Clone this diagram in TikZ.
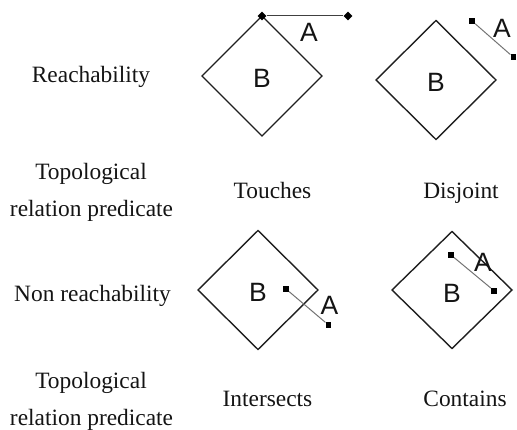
\documentclass[tikz,border=0pt]{standalone}
\usepackage{fontspec}
\setmainfont{Liberation Serif}
\newfontfamily\lblfont{Liberation Sans}
\usetikzlibrary{shapes.geometric}
\tikzset{
  rowlabel/.style={anchor=base, inner sep=0pt, font=\fontsize{23.4}{28}\selectfont, text=black!92},
  caption/.style={anchor=base, inner sep=0pt, font=\fontsize{23.4}{28}\selectfont, text=black!92},
  letter/.style={inner sep=0pt, font=\lblfont\fontsize{26.5}{30}\selectfont, text=black!92},
  region/.style={draw=black!88, line width=1.4pt, line join=miter},
  seg/.style={draw=black!55, line width=1pt},
  segdark/.style={draw=black!75, line width=1pt},
  dmark/.style={diamond, fill=black, inner sep=0pt, minimum width=9pt, minimum height=9pt},
  smark/.style={rectangle, fill=black, inner sep=0pt, minimum size=5.8pt},
}
\begin{document}
\begin{tikzpicture}[x=1pt, y=-1pt]
\useasboundingbox (0,0) rectangle (517,430);

% row labels
\node[rowlabel] (l1) at (91,83) {Reachability};
\node[rowlabel] (l2a) at (91,180) {Topological};
\node[rowlabel] (l2b) at (91.5,216.7) {relation predicate};
\node[rowlabel] (l3) at (92.5,301.7) {Non reachability};
\node[rowlabel] (l4a) at (91,388.3) {Topological};
\node[rowlabel] (l4b) at (91.5,425) {relation predicate};

% captions
\node[caption] (c1) at (272.5,199) {Touches};
\node[caption] (c2) at (461,199) {Disjoint};
\node[caption] (c3) at (267.5,406.7) {Intersects};
\node[caption] (c4) at (465,406.7) {Contains};

% Touches
\draw[region] (262,16) -- (322,76) -- (262,136) -- (202,76) -- cycle;
\node[letter] (b1) at (262,78) {B};
\node[dmark] (t1a) at (262,16) {};
\node[dmark] (t1b) at (348,16) {};
\draw[segdark] (t1a) -- (t1b);
\node[letter] (a1) at (309,32) {A};

% Disjoint
\draw[region] (436,20.5) -- (496,80) -- (436,139.5) -- (376,80) -- cycle;
\node[letter] (b2) at (436,82) {B};
\node[smark] (t2a) at (472,21) {};
\node[smark] (t2b) at (513.5,57.3) {};
\draw[seg] (t2a) -- (t2b);
\node[letter] (a2) at (502,28) {A};

% Intersects
\draw[region] (258,230.5) -- (318,290) -- (258,349.5) -- (198,290) -- cycle;
\node[letter] (b3) at (258,292.5) {B};
\node[smark] (t3a) at (286,289) {};
\node[smark] (t3b) at (328.5,325) {};
\draw[seg] (t3a) -- (t3b);
\node[letter] (a3) at (329.5,305) {A};

% Contains
\draw[region] (452,231.5) -- (512,290) -- (452,348.5) -- (392,290) -- cycle;
\node[letter] (b4) at (452,293) {B};
\node[smark] (t4a) at (451,255) {};
\node[smark] (t4b) at (494,290.7) {};
\draw[seg] (t4a) -- (t4b);
\node[letter] (a4) at (483,262) {A};
\end{tikzpicture}
\end{document}
